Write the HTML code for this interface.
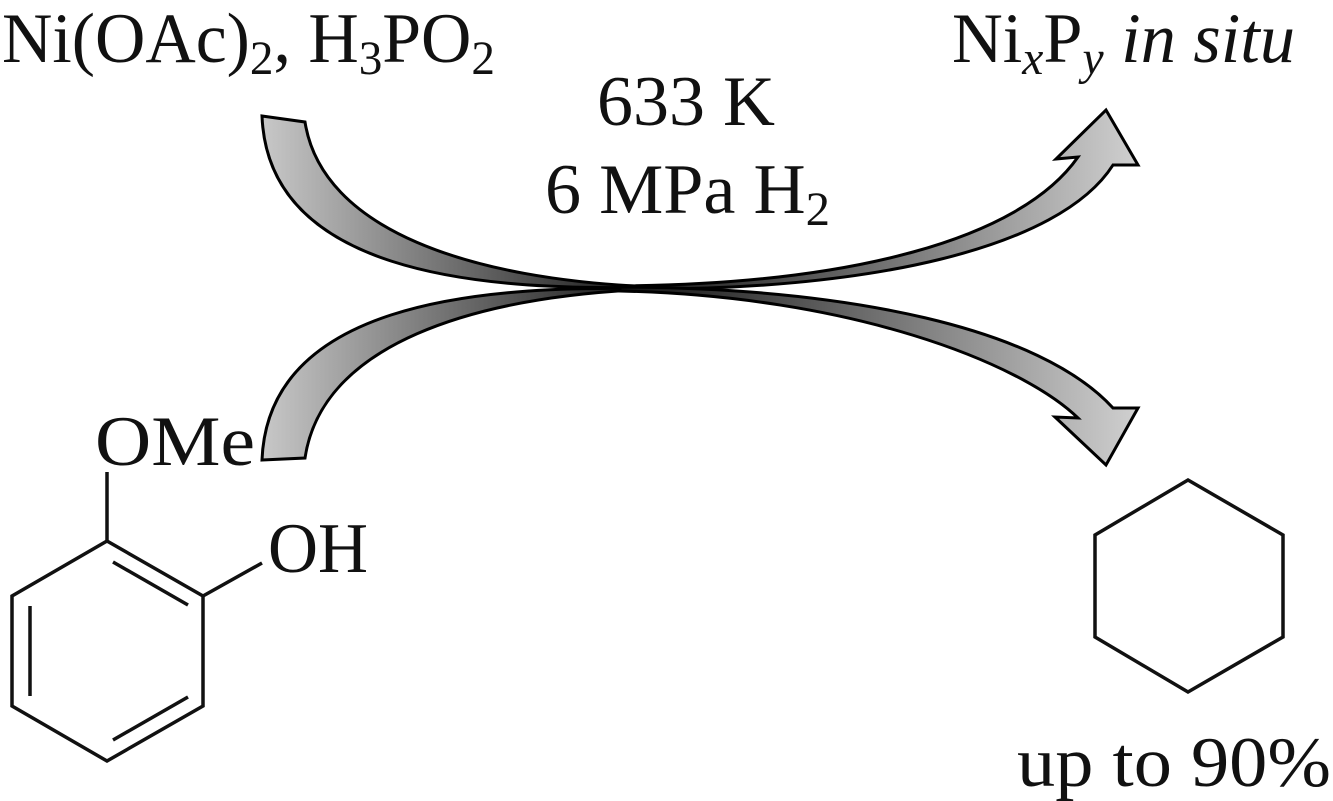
<!DOCTYPE html>
<html><head><style>
body{margin:0;background:#fff;}
svg{display:block}
text{font-family:"Liberation Serif",serif;fill:#111;}
</style></head><body>
<svg width="1333" height="801" viewBox="0 0 1333 801">
<defs>
<linearGradient id="g1" x1="0" y1="0" x2="1" y2="0" gradientUnits="objectBoundingBox">
<stop offset="0" stop-color="#c8c8c8"/><stop offset="1" stop-color="#111"/></linearGradient>
<linearGradient id="g2" x1="1" y1="0" x2="0" y2="0" gradientUnits="objectBoundingBox">
<stop offset="0" stop-color="#d0d0d0"/><stop offset="1" stop-color="#111"/></linearGradient>
</defs>
<g stroke="#000" stroke-width="3" stroke-linejoin="miter">
<path d="M262,116 L305,122 C322,230 470,280 655,287 C470,292 268,270 262,116 Z" fill="url(#g1)"/>
<path d="M262,460 L305,458 C322,345 470,296 655,289 C470,284 268,306 262,460 Z" fill="url(#g1)"/>
<path d="M620,286 C850,284 1020,240 1078,157 L1056,159 L1106,110 L1138,165 L1113,165 C1060,248 870,292 620,289 Z" fill="url(#g2)"/>
<path d="M620,287 C850,288 1040,328 1113,408 L1138,408 L1106,465 L1055,417 L1078,418 C1020,362 850,296 620,291 Z" fill="url(#g2)"/>
</g>
<g stroke="#111" stroke-width="3.5" fill="none">
<polygon points="107,541 203,596 203,706 107,761 12,706 12,596"/>
<line x1="107" y1="541" x2="107" y2="472"/>
<line x1="203" y1="596" x2="262" y2="563"/>
<line x1="113" y1="562" x2="188" y2="605"/>
<line x1="30" y1="606" x2="30" y2="696"/>
<line x1="113" y1="740" x2="188" y2="697"/>
<polygon points="1188,480 1283,535 1283,637 1188,692 1095,637 1095,535"/>
</g>
<g font-size="71">
<text x="2" y="62" textLength="493" lengthAdjust="spacingAndGlyphs">Ni(OAc)<tspan font-size="48" dy="12">2</tspan><tspan dy="-12">, H</tspan><tspan font-size="48" dy="12">3</tspan><tspan dy="-12">PO</tspan><tspan font-size="48" dy="12">2</tspan></text>
<text x="952" y="62" textLength="343" lengthAdjust="spacingAndGlyphs">Ni<tspan font-size="48" dy="12" font-style="italic">x</tspan><tspan dy="-12">P</tspan><tspan font-size="48" dy="12" font-style="italic">y</tspan><tspan dy="-12" font-style="italic"> in situ</tspan></text>
<text x="597" y="125" textLength="178" lengthAdjust="spacingAndGlyphs">633 K</text>
<text x="545" y="213" textLength="285" lengthAdjust="spacingAndGlyphs">6 MPa H<tspan font-size="48" dy="12">2</tspan></text>
<text x="95" y="465" textLength="160" lengthAdjust="spacingAndGlyphs">OMe</text>
<text x="268" y="572" textLength="100" lengthAdjust="spacingAndGlyphs">OH</text>
<text x="1017" y="786" textLength="314" lengthAdjust="spacingAndGlyphs">up to 90%</text>
</g>
</svg>
</body></html>
